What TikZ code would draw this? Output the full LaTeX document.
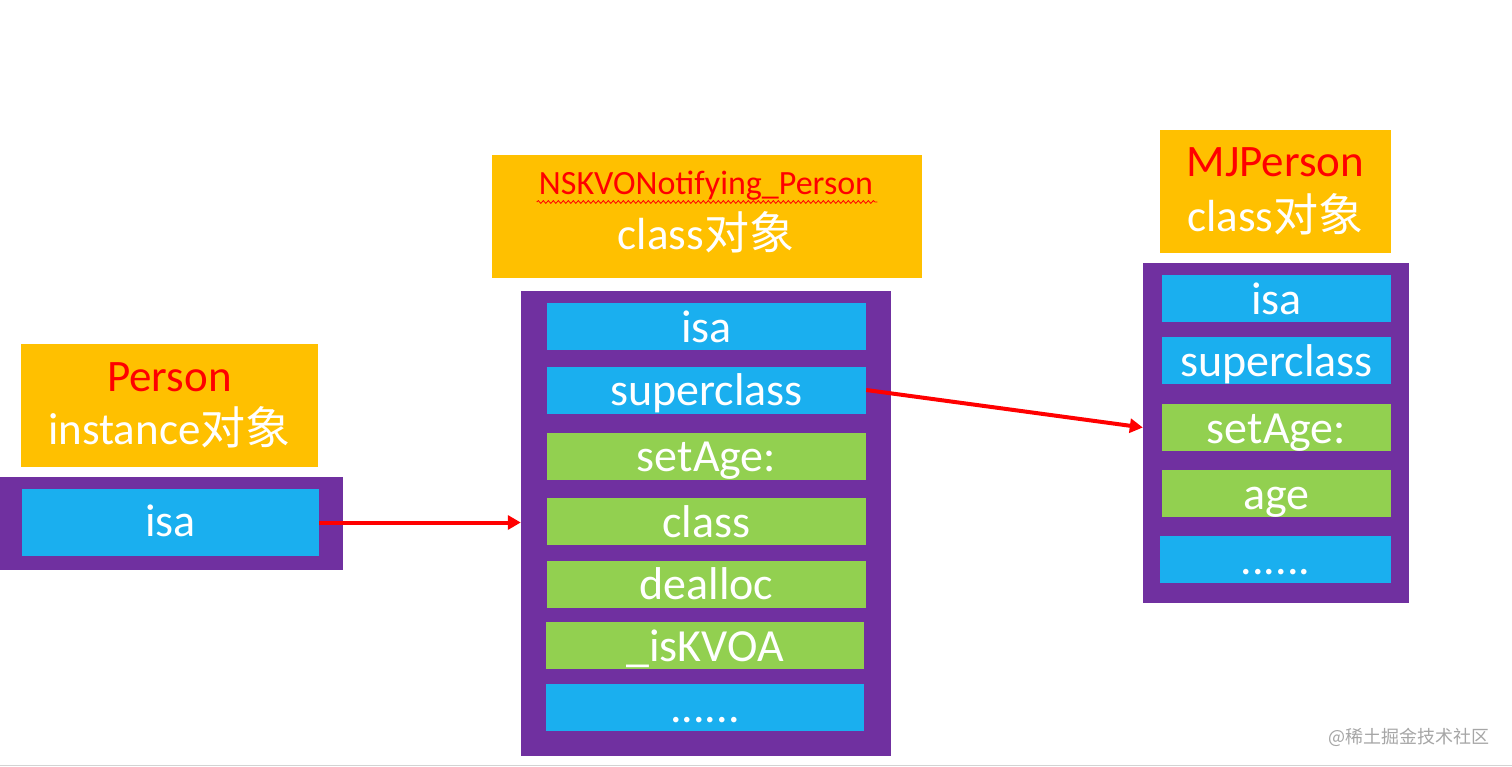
\documentclass[tikz,border=0pt]{standalone}
\usepackage{fontspec}
\setmainfont{Carlito}
\newfontfamily\cjk{Noto Sans CJK SC}
\usepackage{xcolor}
\definecolor{cOrange}{HTML}{FFC000}
\definecolor{cPurple}{HTML}{7030A0}
\definecolor{cBlue}{HTML}{1AAFEF}
\definecolor{cGreen}{HTML}{92D050}
\definecolor{cRed}{HTML}{FF0000}
\definecolor{cGray}{HTML}{A6A6A6}
\usetikzlibrary{arrows.meta,decorations.pathmorphing}
\tikzset{
  node-head/.style={fill=cOrange,minimum width=#1,minimum height=123pt,
    inner sep=0pt,align=center,text=white,font=\fontsize{45}{53}\selectfont},
  head-text/.style={inner sep=0pt,text=white,font=\fontsize{45}{53}\selectfont},
  title-text/.style={inner sep=0pt,text=cRed,font=\fontsize{34}{40}\selectfont},
  node-frame/.style={fill=cPurple,inner sep=0pt},
  node-cell/.style={inner sep=0pt,minimum height=47pt,text height=39pt,
    text depth=8pt,text=white,font=\fontsize{46}{52}\selectfont},
  cell-blue/.style={node-cell,fill=cBlue},
  cell-green/.style={node-cell,fill=cGreen},
  arrow/.style={-{Triangle[length=13pt,width=14pt]},line width=4pt,draw=cRed},
  squiggle/.style={draw=cRed,line width=0.8pt,
    decorate,decoration={snake,amplitude=1.4pt,segment length=5pt}},
  watermark/.style={inner sep=0pt,text=cGray,font=\cjk\fontsize{18}{22}\selectfont},
}
\begin{document}
\begin{tikzpicture}[x=1pt,y=-1pt]
  \path[use as bounding box,fill=white] (0,0) rectangle (1512,767);
  % Person instance
  \node[node-head=297pt] (p-head) at (169.5,405.5) {{\color{cRed}Person}\\instance{\cjk 对象}};
  \node[node-frame,minimum width=343pt,minimum height=93pt] (p-frame) at (171.5,523.5) {};
  \node[cell-blue,minimum width=297pt,minimum height=67pt,text height=47pt,text depth=20pt]
    (p-isa) at (170.5,522.5) {isa};
  % NSKVONotifying_Person class
  \node[node-head=430pt] (n-head) at (706.5,216.5) {};
  \node[title-text,anchor=base] (n-title) at (706,195) {NSKVONotifying\_Person};
  \node[head-text,anchor=base]  (n-sub)   at (706,250) {class{\cjk 对象}};
  \draw[squiggle] ([xshift=-2pt,yshift=-7pt]n-title.base west) -- ([xshift=4pt,yshift=-7pt]n-title.base east);
  \node[node-frame,minimum width=370pt,minimum height=465pt] (n-frame) at (706,523.5) {};
  \node[cell-blue,minimum width=319pt]  (n-isa)     at (706.5,326.5) {isa};
  \node[cell-blue,minimum width=319pt]  (n-super)   at (706.5,390)   {superclass};
  \node[cell-green,minimum width=319pt] (n-setage)  at (706.5,456)   {setAge:};
  \node[cell-green,minimum width=319pt] (n-class)   at (706.5,521.5) {class};
  \node[cell-green,minimum width=319pt] (n-dealloc) at (706.5,584)   {dealloc};
  \node[cell-green,minimum width=318pt] (n-iskvoa)  at (705,645.5)   {\_isKVOA};
  \node[cell-blue,minimum width=318pt]  (n-more)    at (705,707)     {......};
  % MJPerson class
  \node[node-head=231pt,font=\fontsize{45}{55}\selectfont] (m-head) at (1275.5,191.5)
    {{\color{cRed}MJPerson}\\class{\cjk 对象}};
  \node[node-frame,minimum width=266pt,minimum height=340pt] (m-frame) at (1276,433) {};
  \node[cell-blue,minimum width=229pt]  (m-isa)    at (1276.5,298.5) {isa};
  \node[cell-blue,minimum width=229pt]  (m-super)  at (1276.5,360.5) {superclass};
  \node[cell-green,minimum width=229pt] (m-setage) at (1276.5,427.5) {setAge:};
  \node[cell-green,minimum width=229pt] (m-age)    at (1276.5,493.5) {age};
  \node[cell-blue,minimum width=231pt]  (m-more)   at (1275.5,559)   {......};
  % pointers
  \draw[arrow] (p-isa.east) -- (p-isa.east -| n-frame.west);
  \draw[arrow] (n-super.east) -- (m-frame.west |- m-setage);
  \node[watermark,anchor=east] (mark) at (1490,737) {@稀土掘金技术社区};
  \draw[cGray!50,line width=1.5pt] (0,765.5) -- (1512,765.5);
\end{tikzpicture}
\end{document}
